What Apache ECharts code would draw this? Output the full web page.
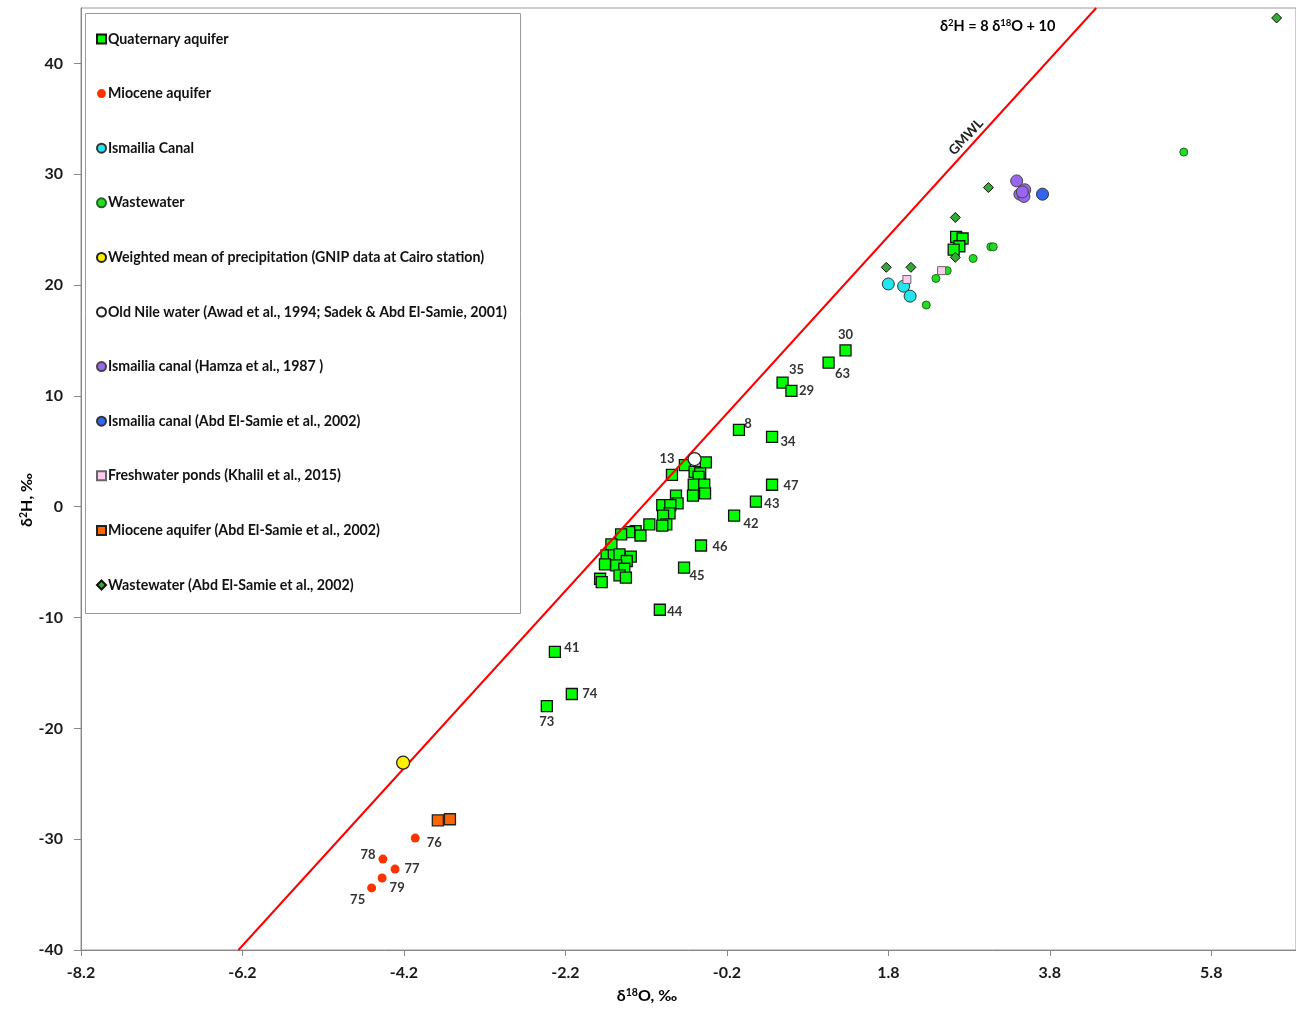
<!DOCTYPE html>
<html>
<head>
<meta charset="utf-8">
<script src="https://cdn.jsdelivr.net/npm/echarts@6/dist/echarts.min.js"></script>
<style>
html,body{margin:0;padding:0;background:#fff;}
#chart{width:1296px;height:1010px;}
</style>
</head>
<body>
<div id="chart"></div>
<script>
// ---------- DATA ----------
const xTicks = [-8.2, -6.2, -4.2, -2.2, -0.2, 1.8, 3.8, 5.8];
const yTicks = [-40, -30, -20, -10, 0, 10, 20, 30, 40];

const quaternary = [
  [1.27, 14.1], [1.06, 13.0], [0.49, 11.2], [0.60, 10.45], [-0.05, 6.94], [0.36, 6.3],
  [0.36, 1.98], [0.16, 0.45], [-0.11, -0.8], [-0.52, -3.5], [-0.73, -5.5], [-1.03, -9.3],
  [-2.33, -13.1], [-2.12, -16.9], [-2.43, -18.0], [-0.88, 2.88],
  [-0.72, 3.75], [-0.46, 4.0], [-0.60, 3.15], [-0.53, 3.0], [-0.55, 2.7], [-0.61, 2.0],
  [-0.48, 2.0], [-0.47, 1.2], [-0.62, 1.0], [-0.83, 1.0], [-0.81, 0.3], [-1.0, 0.15],
  [-0.90, 0.15], [-0.91, -0.6], [-0.99, -0.8], [-0.95, -1.6], [-1.0, -1.7], [-1.16, -1.6],
  [-1.33, -2.2], [-1.27, -2.6], [-1.41, -2.3], [-1.51, -2.5], [-1.63, -3.4], [-1.69, -4.4],
  [-1.60, -4.4], [-1.53, -4.3], [-1.39, -4.5], [-1.44, -4.9], [-1.71, -5.2], [-1.57, -5.3],
  [-1.47, -5.6], [-1.53, -6.2], [-1.45, -6.4], [-1.77, -6.5], [-1.75, -6.8],
  [2.64, 24.35], [2.72, 24.2], [2.68, 23.5], [2.61, 23.2]
];
const quaternaryLabels = ['30','63','35','29','8','34','47','43','42','46','45','44','41','74','73','13'];

const miocene = [[-4.06, -29.9], [-4.46, -31.8], [-4.31, -32.7], [-4.47, -33.5], [-4.60, -34.4]];
const mioceneLabels = ['76','78','77','79','75'];

const ismailiaCanal = [[1.80, 20.1], [1.99, 19.9], [2.07, 19.0]];
const wastewater = [[2.27, 18.2], [2.39, 20.6], [2.53, 21.3], [2.85, 22.4], [3.07, 23.45], [3.10, 23.45], [5.46, 32.0]];
const precipitation = [[-4.21, -23.1]];
const oldNile = [[-0.60, 4.3]];
const hamza = [[3.39, 29.4], [3.43, 28.2], [3.49, 28.6], [3.48, 28.0], [3.46, 28.4]];
const abdCanal = [[3.71, 28.2]];
const ponds = [[2.03, 20.5], [2.46, 21.3]];
const mioceneAbd = [[-3.78, -28.3], [-3.63, -28.2]];
const wastewaterAbd = [[3.04, 28.8], [2.63, 26.1], [2.63, 22.5], [1.775, 21.6], [2.08, 21.6], [6.61, 44.1]];

const gmwlX = [-6.25, 4.375]; // GMWL: d2H = 8 d18O + 10

// ---------- STYLE ----------
const FONT = 'Lato';
const labelOffsets = {
  '30': [0, -16], '63': [14, 11], '35': [14, -13], '29': [15, 0], '8': [9, -6], '34': [16, 5],
  '47': [19, 1], '43': [16, 2], '42': [17, 8], '46': [19, 1], '45': [13, 8], '44': [15, 2],
  '41': [17, -4], '74': [18, 0], '73': [0, 16], '13': [-5, -16],
  '76': [19, 5], '78': [-15, -4], '77': [17, 0], '79': [15, 10], '75': [-14, 12]
};
function withLabels(points, labels) {
  return points.map((p, i) => {
    const lab = labels[i];
    if (!lab) return p;
    return {
      value: p,
      label: {
        show: true, formatter: lab, position: 'inside', offset: labelOffsets[lab],
        color: '#333', fontFamily: FONT, fontWeight: 'bold', fontSize: 13
      }
    };
  });
}

const legendNames = [
  'Quaternary aquifer',
  'Miocene aquifer',
  'Ismailia Canal',
  'Wastewater',
  'Weighted mean of precipitation (GNIP data at Cairo station)',
  'Old Nile water (Awad et al., 1994; Sadek & Abd El-Samie, 2001)',
  'Ismailia canal (Hamza et al., 1987 )',
  'Ismailia canal (Abd El-Samie et al., 2002)',
  'Freshwater ponds (Khalil et al., 2015)',
  'Miocene aquifer (Abd El-Samie et al., 2002)',
  'Wastewater (Abd El-Samie et al., 2002)'
];

function sc(name, data, symbol, size, color, border, bw, z) {
  return {
    name, type: 'scatter', data, symbol, symbolSize: size, z: z || 3,
    itemStyle: { color, borderColor: border, borderWidth: bw, opacity: 1 },
    emphasis: { disabled: true }
  };
}

const chart = echarts.init(document.getElementById('chart'), null, { renderer: 'canvas' });
const option = {
  animation: false,
  backgroundColor: '#fff',
  grid: { left: 81, right: 0, top: 8, bottom: 60, show: true, borderColor: '#999', borderWidth: 1 },
  xAxis: {
    type: 'value', min: -8.2, max: 6.85,
    axisLine: { show: true, onZero: false, lineStyle: { color: '#888', width: 1 } },
    axisTick: { show: true, customValues: xTicks, length: 6, lineStyle: { color: '#888' } },
    axisLabel: { customValues: xTicks, color: '#1a1a1a', fontFamily: FONT, fontWeight: 'bold', fontSize: 16, margin: 15,
      formatter: v => v.toFixed(1) },
    splitLine: { show: false }
  },
  yAxis: {
    type: 'value', min: -40, max: 45,
    axisLine: { show: true, onZero: false, lineStyle: { color: '#888', width: 1 } },
    axisTick: { show: true, customValues: yTicks, length: 7, lineStyle: { color: '#888' } },
    axisLabel: { customValues: yTicks, color: '#1a1a1a', fontFamily: FONT, fontWeight: 'bold', fontSize: 16, margin: 18 },
    splitLine: { show: false }
  },
  legend: {
    data: legendNames,
    orient: 'vertical', left: 96, top: 31, z: 10,
    itemWidth: 9, itemHeight: 9, itemGap: 38.6,
    padding: 0,
    textStyle: { color: '#111', fontFamily: FONT, fontWeight: 'bold', fontSize: 14.2, lineHeight: 16, padding: [0, 0, 0, -3] },
    selectedMode: false
  },
  graphic: [
    { type: 'rect', shape: { x: 85.5, y: 13.5, width: 435, height: 600 }, style: { fill: '#fff', stroke: '#999', lineWidth: 1 }, z: 2 },
    { type: 'text', x: 940, y: 26, z: 10, style: {
      text: '{a|δ}{s|2}{a|H = 8 δ}{s|18}{a|O + 10}', verticalAlign: 'middle',
      rich: { a: { fontFamily: FONT, fontWeight: 'bold', fontSize: 14.5, color: '#222' },
              s: { fontFamily: FONT, fontWeight: 'bold', fontSize: 9.5, color: '#222', padding: [0, 0, 6, 0] } } } },
    { type: 'text', x: 966, y: 137, rotation: 0.833, z: 10, style: {
      text: 'GMWL', fontFamily: FONT, fontWeight: 'bold', fontSize: 13.5, fill: '#222', align: 'center', verticalAlign: 'middle' } },
    { type: 'text', x: 647, y: 996, z: 10, style: {
      text: '{a|δ}{s|18}{a|O, ‰}', align: 'center', verticalAlign: 'middle',
      rich: { a: { fontFamily: FONT, fontWeight: 'bold', fontSize: 16, color: '#222' },
              s: { fontFamily: FONT, fontWeight: 'bold', fontSize: 10.5, color: '#222', padding: [0, 0, 6, 0] } } } },
    { type: 'text', x: 27, y: 500, rotation: Math.PI / 2, z: 10, style: {
      text: '{a|δ}{s|2}{a|H, ‰}', align: 'center', verticalAlign: 'middle',
      rich: { a: { fontFamily: FONT, fontWeight: 'bold', fontSize: 16, color: '#222' },
              s: { fontFamily: FONT, fontWeight: 'bold', fontSize: 10.5, color: '#222', padding: [0, 0, 6, 0] } } } }
  ],
  series: [
    sc(legendNames[0], withLabels(quaternary, quaternaryLabels), 'rect', 11, '#00FF00', '#111', 1.3, 3),
    {
      name: 'GMWL', type: 'line', data: gmwlX.map(x => [x, 8 * x + 10]), symbol: 'none', z: 4,
      lineStyle: { color: '#FF0000', width: 2 }, emphasis: { disabled: true }, silent: true
    },
    sc(legendNames[1], withLabels(miocene, mioceneLabels), 'circle', 9, '#FF3300', '#FF3300', 0, 5),
    sc(legendNames[2], ismailiaCanal, 'circle', 12, '#22E5F0', '#333', 1, 5),
    sc(legendNames[3], wastewater, 'circle', 8, '#22DD22', '#226622', 1, 5),
    sc(legendNames[4], precipitation, 'circle', 13, '#FFEE00', '#222', 1.3, 5),
    sc(legendNames[5], oldNile, 'circle', 13, '#FFFFFF', '#222', 1.3, 5),
    sc(legendNames[6], hamza, 'circle', 12, '#9966EE', '#444', 1, 5),
    sc(legendNames[7], abdCanal, 'circle', 12, '#3366EE', '#333', 1, 5),
    sc(legendNames[8], ponds, 'rect', 8, '#FFCCEE', '#666', 1, 5),
    sc(legendNames[9], mioceneAbd, 'rect', 11, '#FF6600', '#222', 1.3, 5),
    sc(legendNames[10], wastewaterAbd, 'diamond', 10, '#33AA33', '#111', 1, 5)
  ]
};
chart.setOption(option);
</script>
</body>
</html>
